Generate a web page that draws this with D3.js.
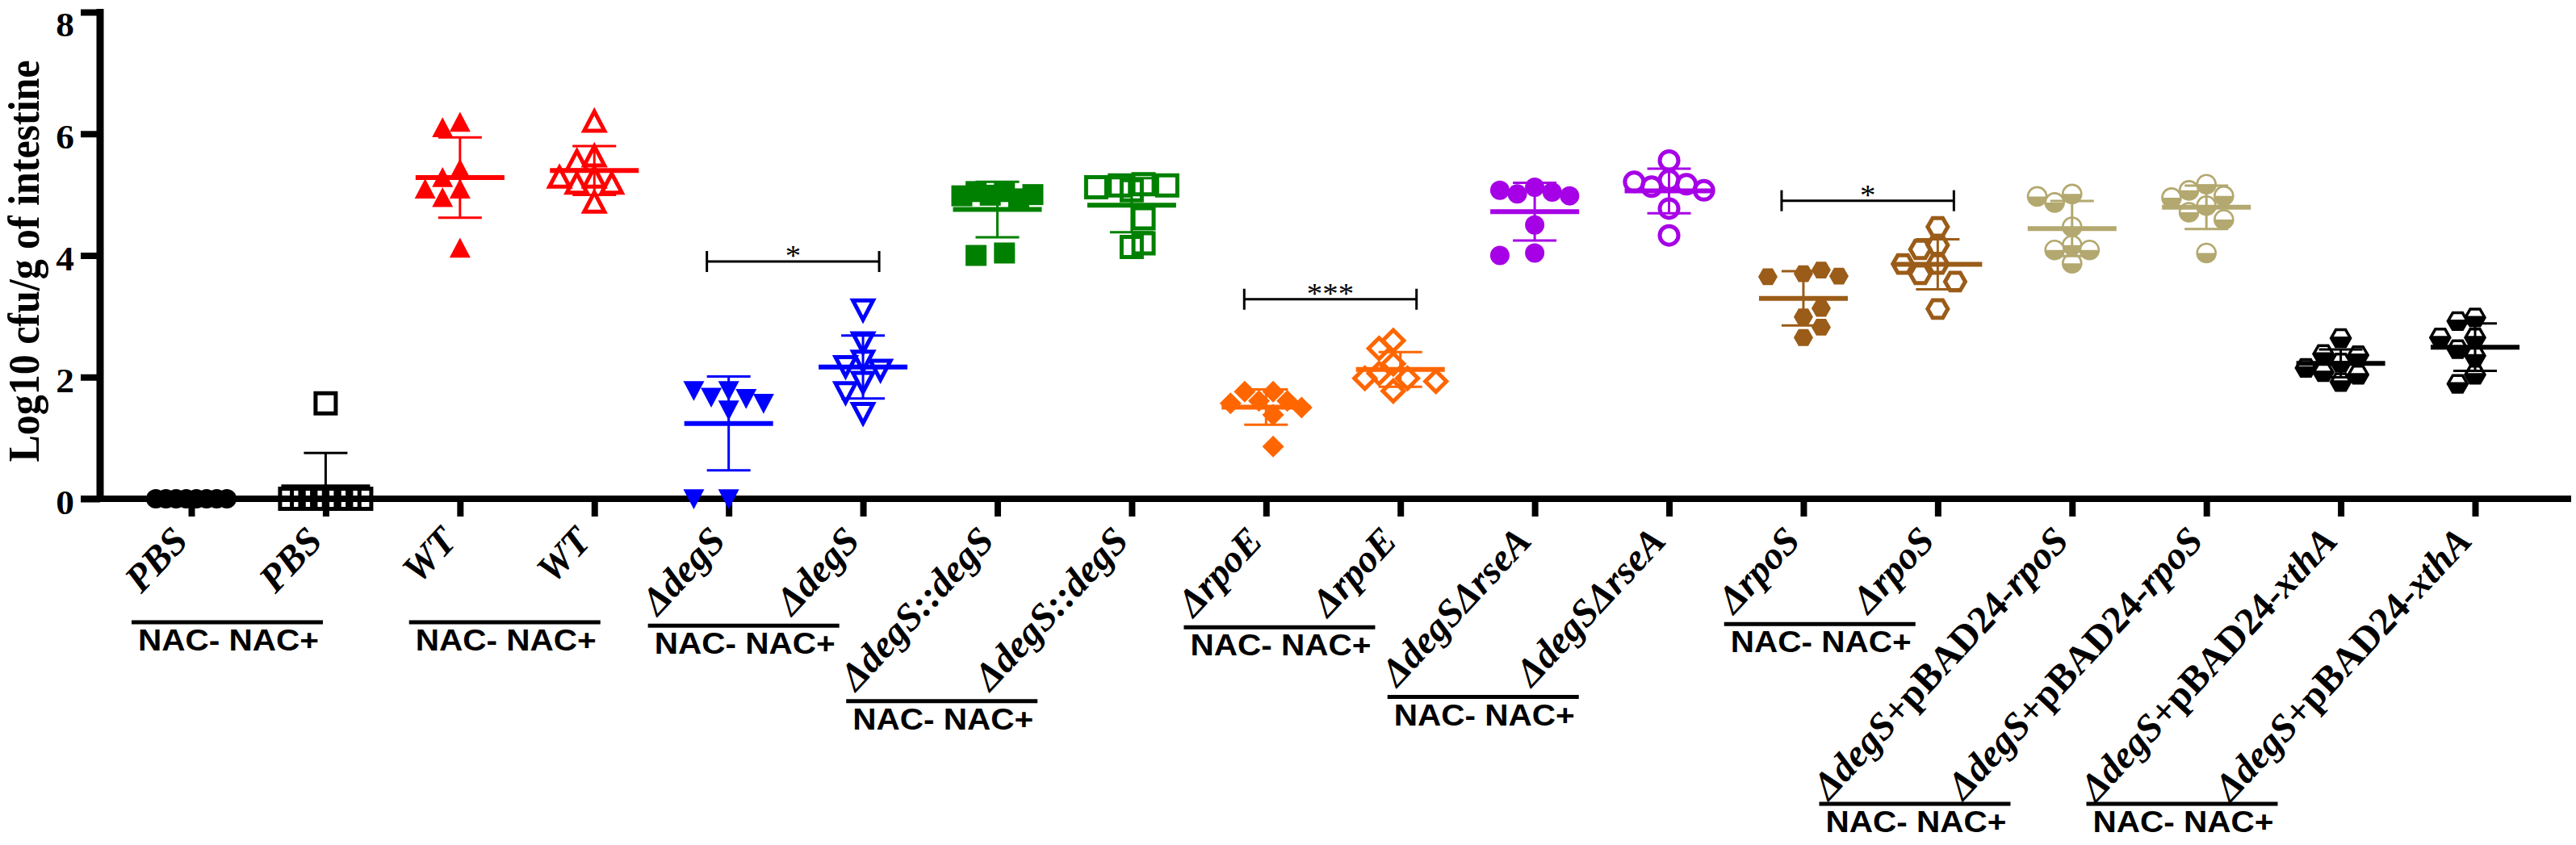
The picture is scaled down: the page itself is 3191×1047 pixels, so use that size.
<!DOCTYPE html>
<html lang="en">
<head>
<meta charset="UTF-8" />
<title>Log10 cfu/g of intestine</title>
<style>
  body { margin: 0; background: #fff; }
  svg { display: block; }
</style>
</head>
<body>
<svg id="chart"></svg>
<script src="https://d3js.org/d3.v7.min.js"></script>
<script>
// ---- data (log10 cfu/g, 8 mice per group) ----
const groups = [
  "PBS", "PBS", "WT", "WT", "ΔdegS", "ΔdegS", "ΔdegS::degS", "ΔdegS::degS",
  "ΔrpoE", "ΔrpoE", "ΔdegSΔrseA", "ΔdegSΔrseA", "ΔrpoS", "ΔrpoS",
  "ΔdegS+pBAD24-rpoS", "ΔdegS+pBAD24-rpoS", "ΔdegS+pBAD24-xthA", "ΔdegS+pBAD24-xthA"
];
const treatment = ["NAC-", "NAC+", "NAC-", "NAC+", "NAC-", "NAC+", "NAC-", "NAC+", "NAC-",
  "NAC+", "NAC-", "NAC+", "NAC-", "NAC+", "NAC-", "NAC+", "NAC-", "NAC+"];

const pbsNeg      = [0, 0, 0, 0, 0, 0, 0, 0];
const pbsPos      = [1.57, 0, 0, 0, 0, 0, 0, 0];
const wtNeg       = [6.10, 6.19, 5.42, 5.28, 5.09, 5.09, 4.95, 4.12];
const wtPos       = [6.20, 5.63, 5.55, 5.28, 5.28, 5.18, 5.18, 4.87];
const degSNeg     = [1.78, 1.78, 1.67, 1.65, 1.57, 1.46, 0, 0];
const degSPos     = [3.11, 2.57, 2.27, 2.18, 2.12, 1.92, 1.75, 1.41];
const compNeg     = [5.05, 5.05, 5.00, 4.99, 4.98, 4.93, 4.04, 4.00];
const compPos     = [5.17, 5.15, 5.15, 5.12, 5.07, 4.61, 4.20, 4.14];
const rpoENeg     = [1.76, 1.76, 1.61, 1.61, 1.57, 1.50, 1.38, 0.86];
const rpoEPos     = [2.60, 2.47, 2.22, 2.06, 1.98, 1.98, 1.93, 1.77];
const rseANeg     = [5.12, 5.07, 5.04, 5.01, 4.98, 4.50, 4.04, 4.00];
const rseAPos     = [5.56, 5.24, 5.21, 5.17, 5.13, 5.07, 4.77, 4.33];
const rpoSNeg     = [3.76, 3.70, 3.66, 3.65, 3.13, 2.99, 2.82, 2.65];
const rpoSPos     = [4.47, 4.17, 4.10, 3.86, 3.86, 3.69, 3.57, 3.12];
const pRpoSNeg    = [5.01, 4.97, 4.87, 4.47, 4.17, 4.09, 4.09, 3.87];
const pRpoSPos    = [5.17, 5.07, 4.98, 4.95, 4.82, 4.71, 4.59, 4.04];
const pXthANeg    = [2.64, 2.38, 2.36, 2.24, 2.15, 2.08, 2.04, 1.92];
const pXthAPos    = [2.98, 2.92, 2.65, 2.65, 2.46, 2.35, 2.04, 1.89];

const series = [pbsNeg, pbsPos, wtNeg, wtPos, degSNeg, degSPos, compNeg, compPos,
  rpoENeg, rpoEPos, rseANeg, rseAPos, rpoSNeg, rpoSPos, pRpoSNeg, pRpoSPos, pXthANeg, pXthAPos];

const yTicks = [0, 2, 4, 6, 8];

// significance brackets: group pair, label, height (log10 units)
const sigPairs = [[4, 5], [8, 9], [12, 13]];
const sigText = ["*", "***", "*"];
const sigLevel = [3.9, 3.28, 4.9];

// ---- styles ----
const shapes = ["circle", "square", "triUp", "triUp", "triDown", "triDown", "square", "square",
  "diamond", "diamond", "circle", "circle", "hexagon", "hexagon", "circle", "circle", "hexagon", "hexagon"];
const fills = ["filled", "open", "filled", "open", "filled", "open", "filled", "open", "filled",
  "open", "filled", "open", "filled", "open", "half", "half", "half", "half"];
const colors = ["#000000", "#000000", "#ff0000", "#ff0000", "#0000ff", "#0000ff", "#008000", "#008000",
  "#ff6600", "#ff6600", "#a600e6", "#a600e6", "#9a5c18", "#9a5c18", "#b3a86f", "#b3a86f", "#000000", "#000000"];

const serif = "Liberation Serif, Times New Roman, serif";
const sans = "Liberation Sans, Arial, sans-serif";
const sx = 1.08; // the original figure is slightly stretched horizontally

const W = 3191, H = 1047;
const svg = d3.select("#chart").attr("width", W).attr("height", H);

const x = d3.scalePoint().domain(d3.range(groups.length)).range([237, 3066]);
const y = d3.scaleLinear().domain([0, 8]).range([618, 15]);
const axisX = 124;

// ---- axes ----
const yAxis = d3.axisLeft(y).tickValues(yTicks).tickSize(24).tickSizeOuter(0).tickFormat("");
svg.append("g")
  .attr("transform", `translate(${axisX},0)`)
  .call(yAxis)
  .call(g => g.select(".domain").remove())
  .selectAll(".tick line").attr("stroke", "#000").attr("stroke-width", 8);

const xAxis = d3.axisBottom(x).tickSize(22).tickSizeOuter(0).tickFormat("");
svg.append("g")
  .attr("transform", `translate(0,${y(0)})`)
  .call(xAxis)
  .call(g => g.select(".domain").remove())
  .selectAll(".tick line").attr("stroke", "#000").attr("stroke-width", 8);

svg.append("line")
  .attr("x1", axisX).attr("x2", axisX)
  .attr("y1", y(8) - 4).attr("y2", y(0) + 4)
  .attr("stroke", "#000").attr("stroke-width", 9);
svg.append("line")
  .attr("x1", 100).attr("x2", 3185)
  .attr("y1", y(0)).attr("y2", y(0))
  .attr("stroke", "#000").attr("stroke-width", 8);

// tick labels sit a little below their ticks; the top one is kept inside the frame
svg.append("g").selectAll("text")
  .data(yTicks)
  .join("text")
  .attr("transform", d => `translate(92,${Math.max(y(d) + 4, 30)}) scale(${sx},1)`)
  .attr("dy", "0.35em")
  .attr("text-anchor", "end")
  .attr("font-family", serif)
  .attr("font-weight", "bold")
  .attr("font-size", 42)
  .text(d => d);

svg.append("text")
  .attr("transform", `translate(48,${(y(0) + y(8)) / 2 + 7}) scale(${sx},1) rotate(-90)`)
  .attr("text-anchor", "middle")
  .attr("font-family", serif)
  .attr("font-weight", "bold")
  .attr("font-size", 50)
  .attr("textLength", 498)
  .attr("lengthAdjust", "spacingAndGlyphs")
  .text("Log10 cfu/g of intestine");

// ---- horizontal spread of points (simple beeswarm) ----
function swarm(vals) {
  const step = 21.6, minDist = 22, maxHalf = 44;
  const order = d3.range(vals.length).sort((a, b) => vals[b] - vals[a]);
  const placed = [];
  const off = new Array(vals.length);
  order.forEach(i => {
    const py = y(vals[i]);
    for (let n = 0; n < 40; n++) {
      const k = n === 0 ? 0 : (n % 2 ? -Math.ceil(n / 2) : n / 2);
      const px = k * step;
      if (placed.every(p => (p.x - px) ** 2 + (p.y - py) ** 2 >= minDist * minDist)) {
        placed.push({x: px, y: py});
        off[i] = px;
        break;
      }
    }
  });
  const lo = d3.min(off), hi = d3.max(off);
  if (Math.max(-lo, hi) > maxHalf) {
    const mid = (lo + hi) / 2, k = maxHalf / ((hi - lo) / 2);
    return off.map(o => (o - mid) * k);
  }
  return off;
}

// ---- marker drawing ----
const shapePath = {
  square: r => `M${-r},${-r}H${r}V${r}H${-r}Z`,
  triUp: r => `M0,${-r}L${r},${r * 0.9}L${-r},${r * 0.9}Z`,
  triDown: r => `M0,${r}L${r},${-r * 0.9}L${-r},${-r * 0.9}Z`,
  diamond: r => `M0,${-r}L${r},0L0,${r}L${-r},0Z`,
  hexagon: r => `M${-r},0L${-r / 2},${-r * 0.866}L${r / 2},${-r * 0.866}L${r},0L${r / 2},${r * 0.866}L${-r / 2},${r * 0.866}Z`
};
const openSize = {square: 12.5, triUp: 12.5, triDown: 12.5, diamond: 13, hexagon: 12.5};
const filledSize = {square: 13, triUp: 13, triDown: 13, diamond: 13.5, hexagon: 12};

function drawMarker(g, shape, mode, color) {
  if (shape === "circle") {
    if (mode === "filled") {
      g.append("circle").attr("r", 12).attr("fill", color);
    } else if (mode === "open") {
      g.append("circle").attr("r", 11.5).attr("fill", "none").attr("stroke", color).attr("stroke-width", 5);
    } else {
      g.append("circle").attr("r", 11.5).attr("fill", "#fff");
      g.append("path").attr("d", "M-11.5,0A11.5,11.5 0 0 0 11.5,0Z").attr("fill", color);
      g.append("circle").attr("r", 11.5).attr("fill", "none").attr("stroke", color).attr("stroke-width", 2.6);
    }
    return;
  }
  if (mode === "filled") {
    g.append("path").attr("d", shapePath[shape](filledSize[shape])).attr("fill", color);
  } else if (mode === "open") {
    g.append("path").attr("d", shapePath[shape](openSize[shape]))
      .attr("fill", "none").attr("stroke", color).attr("stroke-width", 5);
  } else {
    const r = 12, h = r * 0.866, cut = -2;
    const xe = r - (r / 2) * (-cut / h);
    g.append("path").attr("d", shapePath[shape](r)).attr("fill", "#fff");
    g.append("path")
      .attr("d", `M${-xe},${cut}L${xe},${cut}L${r},0L${r / 2},${h}L${-r / 2},${h}L${-r},0Z`)
      .attr("fill", color);
    g.append("path").attr("d", shapePath[shape](r))
      .attr("fill", "none").attr("stroke", color).attr("stroke-width", 3.5).attr("stroke-linejoin", "miter");
  }
}

const plot = svg.append("g");
series.forEach((vals, gi) => {
  const off = swarm(vals);
  const cg = plot.append("g");
  vals.forEach((v, i) => {
    const m = cg.append("g").attr("transform", `translate(${x(gi) + off[i]},${y(v)})`);
    drawMarker(m, shapes[gi], fills[gi], colors[gi]);
  });

  // mean with SD
  const mean = d3.mean(vals), sd = d3.deviation(vals);
  const c = colors[gi], cx = x(gi);
  cg.append("line")
    .attr("x1", cx - 55).attr("x2", cx + 55)
    .attr("y1", y(mean)).attr("y2", y(mean))
    .attr("stroke", c).attr("stroke-width", 6);
  if (sd > 0) {
    const top = mean + sd, bot = Math.max(0, mean - sd);
    cg.append("line")
      .attr("x1", cx).attr("x2", cx)
      .attr("y1", y(top)).attr("y2", y(bot))
      .attr("stroke", c).attr("stroke-width", 3);
    const caps = mean - sd >= 0 ? [top, mean - sd] : [top];
    caps.forEach(cv => {
      cg.append("line")
        .attr("x1", cx - 27).attr("x2", cx + 27)
        .attr("y1", y(cv)).attr("y2", y(cv))
        .attr("stroke", c).attr("stroke-width", 3);
    });
  }
});

// ---- significance brackets ----
sigPairs.forEach(([a, b], k) => {
  const ly = y(sigLevel[k]), x0 = x(a) - 27, x1 = x(b) + 20;
  const g = svg.append("g").attr("stroke", "#000").attr("stroke-width", 3);
  g.append("line").attr("x1", x0).attr("x2", x1).attr("y1", ly).attr("y2", ly);
  [x0, x1].forEach(xx => g.append("line").attr("x1", xx).attr("x2", xx).attr("y1", ly - 13).attr("y2", ly + 13));
  svg.append("text")
    .attr("transform", `translate(${(x0 + x1) / 2},${ly + 5}) scale(${sx},1)`)
    .attr("text-anchor", "middle")
    .attr("font-family", serif)
    .attr("font-size", 36)
    .text(sigText[k]);
});

// ---- rotated category labels ----
const angle = 47, rad = angle * Math.PI / 180;
const labelEndY = 672, labelDx = -2;
const labelG = svg.append("g")
  .attr("font-family", serif)
  .attr("font-weight", "bold")
  .attr("font-size", 48);
const labelNodes = groups.map((name, i) => {
  const t = labelG.append("text")
    .attr("text-anchor", "end")
    .attr("transform", `translate(${x(i) + labelDx},${labelEndY}) rotate(${-angle})`);
  name.split(/(\+pBAD24-)/).filter(s => s).forEach(part => {
    t.append("tspan")
      .attr("font-style", part === "+pBAD24-" ? "normal" : "italic")
      .text(part);
  });
  return t.node();
});

// ---- NAC-/NAC+ underlines ----
d3.range(0, groups.length, 2).forEach(i => {
  const L = labelNodes[i].getComputedTextLength();
  const startX = x(i) + labelDx - L * Math.cos(rad);
  const startY = labelEndY + L * Math.sin(rad);
  const ly = Math.min(Math.max(startY + 11, 771), 996);
  const lx = startX - 12;
  svg.append("line")
    .attr("x1", lx).attr("x2", lx + 237)
    .attr("y1", ly).attr("y2", ly)
    .attr("stroke", "#000").attr("stroke-width", 5);
  svg.append("text")
    .attr("transform", `translate(${lx + 120},${ly + 35}) scale(${sx},1)`)
    .attr("text-anchor", "middle")
    .attr("font-family", sans)
    .attr("font-weight", "bold")
    .attr("font-size", 37.5)
    .attr("textLength", 224 / sx)
    .attr("lengthAdjust", "spacingAndGlyphs")
    .text(treatment[i] + " " + treatment[i + 1]);
});
</script>
</body>
</html>
